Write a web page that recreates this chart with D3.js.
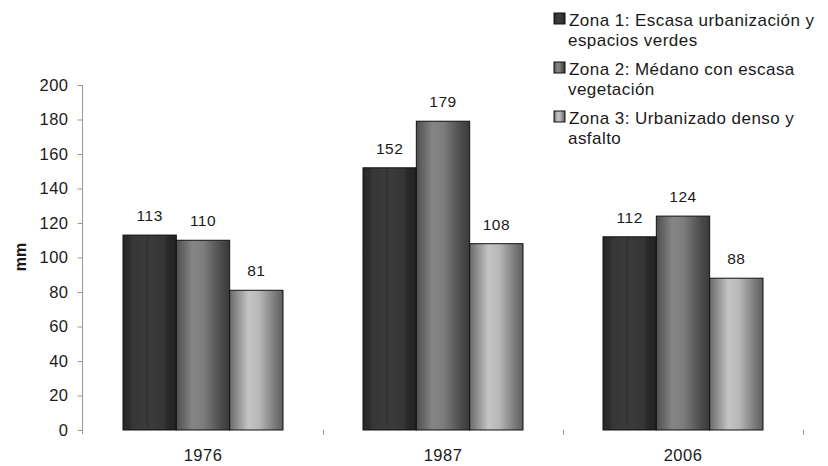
<!DOCTYPE html>
<html>
<head>
<meta charset="utf-8">
<script src="https://cdn.jsdelivr.net/npm/d3@7"></script>
<style>
  html, body { margin: 0; padding: 0; background: #fff; }
  svg { display: block; font-family: "Liberation Sans", Arial, sans-serif; }
</style>
</head>
<body>
<svg id="chart" width="828" height="466"></svg>
<script>
// ---- data ----
const categories = ["1976", "1987", "2006"];
const seriesKeys = ["z1", "z2", "z3"];
const zona1 = [113, 152, 112];
const zona2 = [110, 179, 124];
const zona3 = [81, 108, 88];
const seriesLabels = [
  ["Zona 1: Escasa urbanización y", "espacios verdes"],
  ["Zona 2: Médano con escasa", "vegetación"],
  ["Zona 3: Urbanizado denso y", "asfalto"]
];
const yTicks = [0, 20, 40, 60, 80, 100, 120, 140, 160, 180, 200];
const yTitle = "mm";

const seriesValues = [zona1, zona2, zona3];
const FONT = "'Liberation Sans', Arial, sans-serif";

const svg = d3.select("#chart");
const defs = svg.append("defs");

// gradients (vertical stripe shading across bar width)
const gradSpecs = {
  z1: [[0, "#282828"], [0.14, "#2e2e2e"], [0.16, "#363636"], [0.42, "#3a3a3a"], [0.46, "#333"],
       [0.5, "#3b3b3b"], [0.78, "#343434"], [0.82, "#2a2a2a"], [1, "#222"]],
  z2: [[0, "#4e4e4e"], [0.3, "#858585"], [0.5, "#7e7e7e"], [0.85, "#4a4a4a"], [1, "#3a3a3a"]],
  z3: [[0, "#6a6a6a"], [0.35, "#c4c4c4"], [0.55, "#b8b8b8"], [0.85, "#7a7a7a"], [1, "#5e5e5e"]]
};
Object.entries(gradSpecs).forEach(([k, stops]) => {
  const g = defs.append("linearGradient").attr("id", "g_" + k)
    .attr("x1", "0%").attr("x2", "100%").attr("y1", "0%").attr("y2", "0%");
  stops.forEach(([o, c]) => g.append("stop").attr("offset", o).attr("stop-color", c));
});

const x0 = d3.scaleBand().domain(categories).range([83, 803]).padding(0);
const x1 = d3.scaleBand().domain(seriesKeys).range([40, 200]).padding(0);
const y = d3.scaleLinear().domain([0, 200]).range([430, 85]);

// y axis
const yAxis = d3.axisLeft(y).tickValues(yTicks).tickSize(5).tickPadding(9);
const gy = svg.append("g").attr("transform", "translate(82.5,0)").call(yAxis);
gy.select(".domain").attr("stroke", "#999").attr("d", "M0,85V434");
gy.selectAll(".tick line").attr("stroke", "#999");
gy.selectAll(".tick text").attr("fill", "#1a1a1a").style("font-size", "16.5px")
  .style("letter-spacing", "0.5px").style("font-family", FONT);

// x axis: ticks at band boundaries, no domain line
const xBoundaries = categories.map(c => x0(c) + x0.bandwidth());
svg.append("g").selectAll("line").data(xBoundaries).join("line")
  .attr("x1", d => d + 0.5).attr("x2", d => d + 0.5)
  .attr("y1", 430).attr("y2", 435).attr("stroke", "#999");
svg.append("g").selectAll("text").data(categories).join("text")
  .attr("x", d => x0(d) + x0.bandwidth() / 2)
  .attr("y", 461)
  .attr("text-anchor", "middle")
  .attr("fill", "#1a1a1a")
  .style("font-size", "16.5px").style("letter-spacing", "0.5px")
  .text(d => d);

// y title
svg.append("text")
  .attr("transform", "translate(26,257) rotate(-90)")
  .attr("text-anchor", "middle")
  .attr("fill", "#1a1a1a")
  .style("font-size", "16px").style("font-weight", "bold")
  .text(yTitle);

// bars
const groups = svg.append("g").selectAll("g").data(categories).join("g")
  .attr("transform", d => `translate(${x0(d)},0)`);

groups.selectAll("rect")
  .data((c, i) => seriesKeys.map((k, s) => ({ k, v: seriesValues[s][i] })))
  .join("rect")
  .attr("x", d => x1(d.k))
  .attr("y", d => y(d.v))
  .attr("width", x1.bandwidth())
  .attr("height", d => y(0) - y(d.v))
  .attr("fill", d => `url(#g_${d.k})`)
  .attr("stroke", "#111")
  .attr("stroke-width", 1);

groups.selectAll("text.val")
  .data((c, i) => seriesKeys.map((k, s) => ({ k, v: seriesValues[s][i] })))
  .join("text").attr("class", "val")
  .attr("x", d => x1(d.k) + x1.bandwidth() / 2)
  .attr("y", d => y(d.v) - 14)
  .attr("text-anchor", "middle")
  .attr("fill", "#1a1a1a")
  .style("font-size", "15.5px").style("letter-spacing", "0.5px")
  .text(d => d.v);

// legend
const legendY = [13, 62, 111];
const lg = svg.append("g").selectAll("g").data(seriesKeys).join("g")
  .attr("transform", (d, i) => `translate(554,${legendY[i]})`);
lg.append("rect").attr("x", 0).attr("y", 0).attr("width", 11).attr("height", 11)
  .attr("fill", d => `url(#g_${d})`).attr("stroke", "#111").attr("stroke-width", 1);
lg.each(function (d, i) {
  const t = d3.select(this).append("text")
    .attr("x", 15).attr("y", 13)
    .attr("fill", "#1a1a1a")
    .style("font-size", "17px").style("letter-spacing", "0.45px");
  seriesLabels[i].forEach((line, j) => {
    t.append("tspan").attr("x", j === 0 ? 15 : 14).attr("dy", j === 0 ? 0 : 19.5).text(line);
  });
});
</script>
</body>
</html>
